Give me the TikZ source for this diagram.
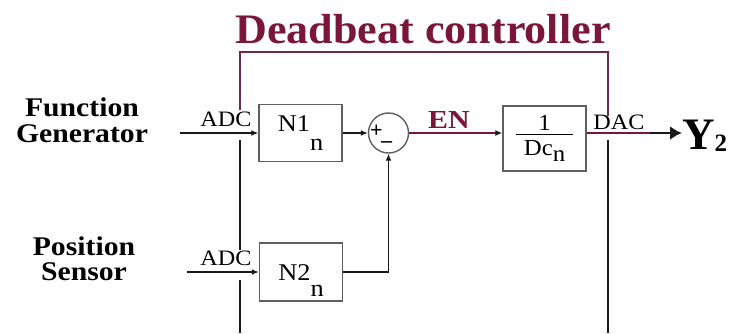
\documentclass[tikz,border=0pt]{standalone}
\usepackage{fontspec}
\setmainfont{Liberation Serif}[BoldFont={Liberation Serif Bold}]
\usetikzlibrary{arrows.meta}
\definecolor{wine}{RGB}{122,22,58}
\definecolor{frm}{RGB}{105,45,75}
\definecolor{bxc}{RGB}{95,95,95}
\definecolor{ink}{RGB}{25,25,25}
\newcommand{\hsc}[2]{\scalebox{#1}[1]{#2}}
\begin{document}
\begin{tikzpicture}[x=1pt,y=-1pt,
  blk/.style={draw=bxc, line width=1.4pt, minimum width=83pt, inner sep=0pt, font=\fontsize{24}{24}\selectfont},
  sig/.style={draw=ink, line width=1.3pt},
  tip/.style={-{Latex[length=7pt,width=6pt]}},
  frameup/.style={draw=frm, line width=1.3pt},
  framelow/.style={draw=ink, line width=1.3pt},
  lab/.style={font=\fontsize{22}{22}\selectfont, inner sep=0pt},
  head/.style={font=\fontsize{27}{26}\selectfont\bfseries, align=center, inner sep=0pt},
  sign/.style={inner sep=0pt, font=\fontsize{22}{22}\selectfont\bfseries},
]
\useasboundingbox[fill=white] (0,0) rectangle (735,333);

% title
\node[font=\fontsize{42}{42}\selectfont\bfseries, text=wine, inner sep=0pt, anchor=base] (title) at (423,43) {\hsc{1.05}{Deadbeat controller}};

% frame
\draw[frameup] (240,110) -- (240,52) -- (608,52) -- (608,116);
\draw[framelow] (240,140) -- (240,250);
\draw[framelow] (240,280) -- (240,333);
\draw[framelow] (608,140) -- (608,333);

% input labels
\node[head, anchor=north] (fg) at (82,97.5) {\hsc{1.1}{Function}\\\hsc{1.1}{Generator}};
\node[head, anchor=north, font=\fontsize{27}{25}\selectfont\bfseries] (ps) at (84,237) {\hsc{1.1}{Position}\\\hsc{1.1}{Sensor}};

% blocks
\node[blk, minimum height=57pt] (n1) at (300.5,133) {\hsc{1.1}{N1\raisebox{-19pt}{n}}};
\node[blk, minimum height=58pt] (n2) at (301,272) {\hsc{1.1}{\rule{0pt}{32pt}N2\raisebox{-16pt}{n}}};
\node[draw=bxc, line width=1.4pt, circle, minimum size=40pt, inner sep=0pt] (s) at (388.5,133) {};
\node[sign] (plus) at (376.5,131.5) {+};
\node[sign] (minus) at (386.5,144.5) {--};
\node[blk, minimum height=65pt, font=\fontsize{23}{23}\selectfont] (dc) at (544.5,138.5)
  {\setlength{\tabcolsep}{7pt}\hsc{1.08}{\begin{tabular}{c}1\\[-3pt]\hline\rule{0pt}{21pt}Dc\raisebox{-6pt}{n}\end{tabular}}};

% small labels
\node[lab, anchor=base] (adc1) at (226,126) {\hsc{1.1}{ADC}};
\node[lab, anchor=base] (adc2) at (226,265) {\hsc{1.1}{ADC}};
\node[lab, anchor=base] (dac) at (619,129) {\hsc{1.1}{DAC}};
\node[font=\fontsize{26}{26}\selectfont\bfseries, text=wine, inner sep=0pt, anchor=base] (en) at (449,128) {\hsc{1.15}{EN}};
\node[inner sep=0pt, anchor=base west] (y2) at (682,149)
  {\fontsize{45}{45}\selectfont\bfseries Y\fontsize{25}{25}\selectfont\raisebox{-2pt}{2}};

% connectors
\coordinate (in1) at (180,133);
\coordinate (in2) at (187,272);
\coordinate (yo) at (650,133);
\draw[sig,tip] (in1) -- (n1.west);
\draw[sig,tip] (in2) -- (n2.west);
\draw[sig,tip] (n1.east) -- (s.west);
\draw[sig,tip] (n2.east) -| (s.south);
\draw[draw=wine, line width=1.3pt, -{Latex[length=7pt,width=6pt,color=ink]}] (s.east) -- (s.east -| dc.west);
\draw[draw=wine, line width=1.3pt] (s.east -| dc.east) -- (yo);
\draw[draw=ink, line width=2.6pt, -{Latex[length=12pt,width=14pt]}] (yo) -- (y2.west |- s.east);
\end{tikzpicture}
\end{document}
